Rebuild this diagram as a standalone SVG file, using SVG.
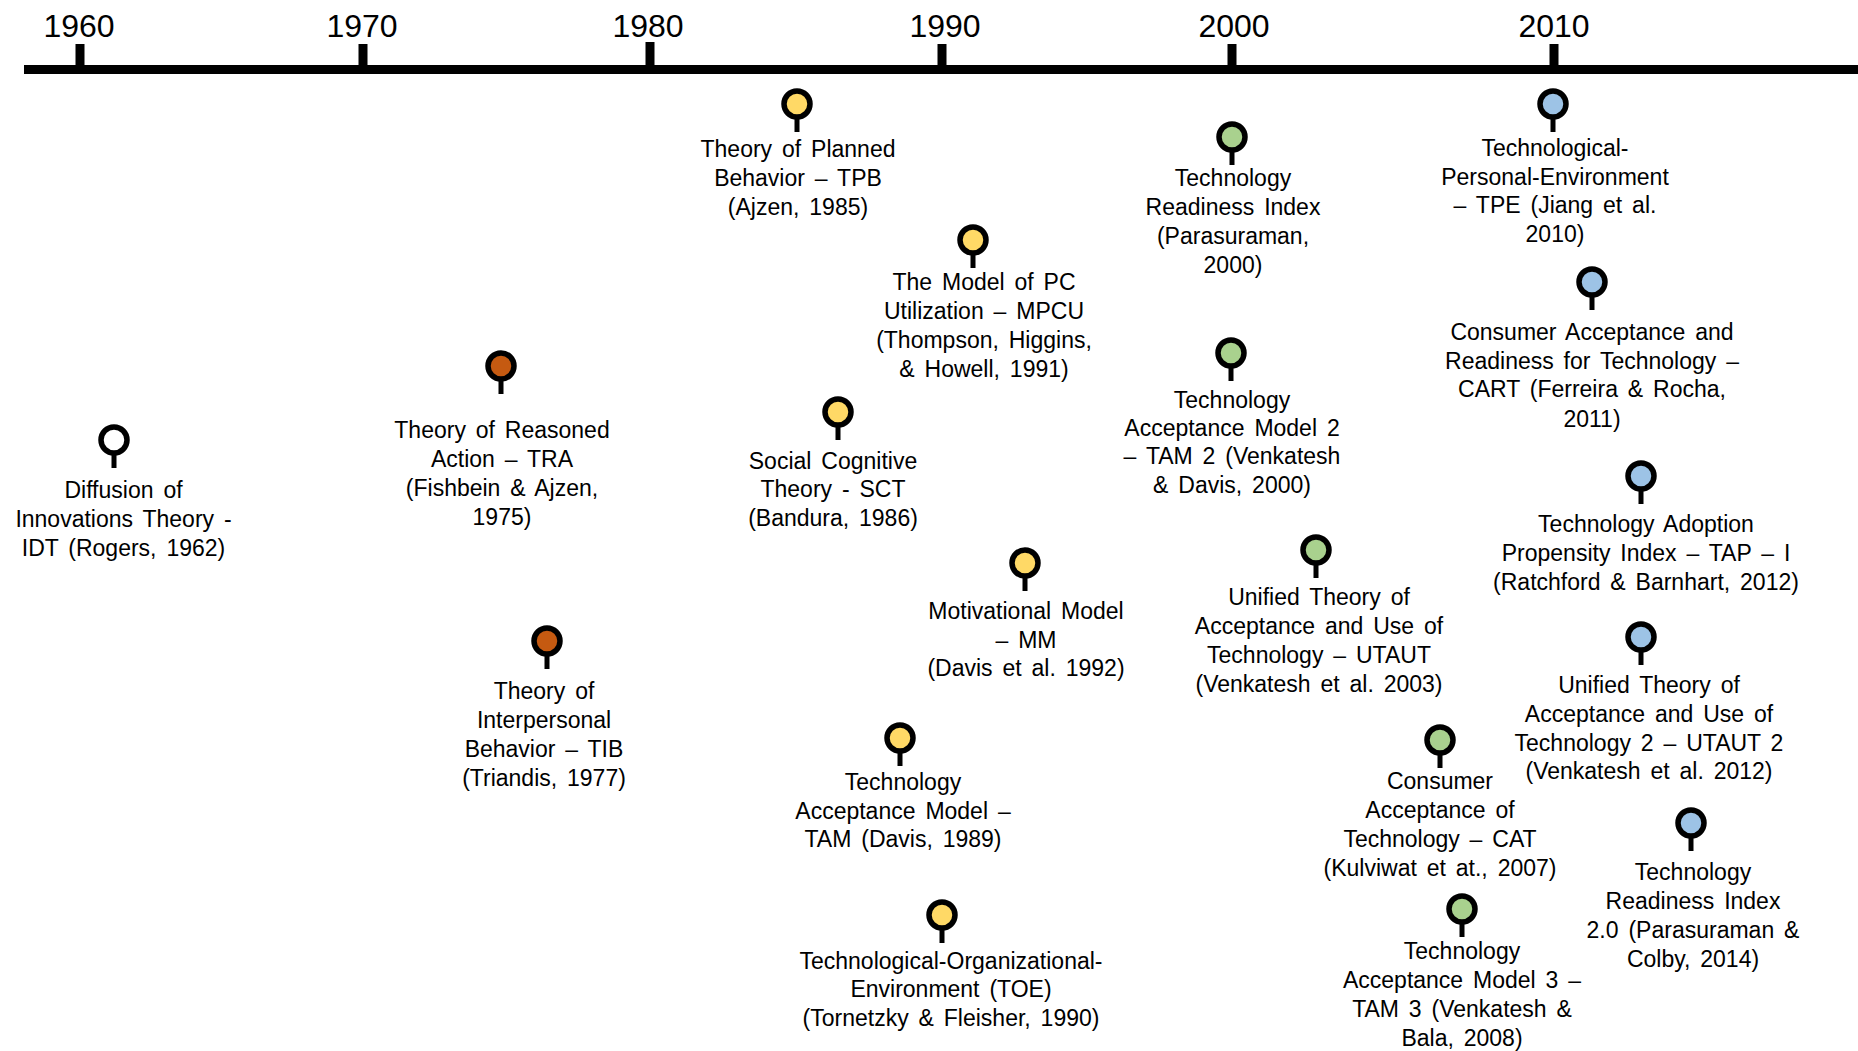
<svg xmlns="http://www.w3.org/2000/svg" width="1858" height="1051" viewBox="0 0 1858 1051">
<style>
  .lbl { font-family: "Liberation Sans", Arial, sans-serif; font-size: 23px; fill: #000; text-anchor: middle; word-spacing: 3.5px; }
  .yr { font-family: "Liberation Sans", Arial, sans-serif; font-size: 32px; fill: #000; text-anchor: middle; }
  .ring { stroke: #000; stroke-width: 5.5; }
  .stem { fill: #000; }
  .white { fill: #ffffff; }
  .orange { fill: #C55A11; }
  .yellow { fill: #FFD966; }
  .green { fill: #A9D18E; }
  .blue { fill: #9DC3E6; }
</style>
<rect width="1858" height="1051" fill="#ffffff"/>
<g id="timeline">
  <rect x="24" y="65" width="1834" height="9" fill="#000"/>
  <rect x="75.5" y="44" width="9" height="22" fill="#000"/>
  <rect x="358.5" y="44" width="9" height="22" fill="#000"/>
  <rect x="645.5" y="42" width="9" height="24" fill="#000"/>
  <rect x="937.5" y="44" width="9" height="22" fill="#000"/>
  <rect x="1227.5" y="44" width="9" height="22" fill="#000"/>
  <rect x="1549.5" y="44" width="9" height="22" fill="#000"/>
  <text class="yr" x="79" y="37">1960</text>
  <text class="yr" x="362" y="37">1970</text>
  <text class="yr" x="648" y="37">1980</text>
  <text class="yr" x="945" y="37">1990</text>
  <text class="yr" x="1234" y="37">2000</text>
  <text class="yr" x="1554" y="37">2010</text>
</g>
<g id="connectors"></g>

<g id="idt">
  <rect class="stem" x="111.5" y="452" width="5" height="16"/>
  <circle class="ring white" cx="114" cy="440" r="13"/>
  <text class="lbl"><tspan x="123.5" y="498">Diffusion of</tspan><tspan x="123.5" y="527">Innovations Theory -</tspan><tspan x="123.5" y="556">IDT (Rogers, 1962)</tspan></text>
</g>
<g id="tra">
  <rect class="stem" x="498.5" y="378" width="5" height="16"/>
  <circle class="ring orange" cx="501" cy="366" r="13"/>
  <text class="lbl"><tspan x="502" y="438">Theory of Reasoned</tspan><tspan x="502" y="467">Action – TRA</tspan><tspan x="502" y="496">(Fishbein &amp; Ajzen,</tspan><tspan x="502" y="525">1975)</tspan></text>
</g>
<g id="tib">
  <rect class="stem" x="544.5" y="653" width="5" height="16"/>
  <circle class="ring orange" cx="547" cy="641" r="13"/>
  <text class="lbl"><tspan x="544" y="699">Theory of</tspan><tspan x="544" y="728">Interpersonal</tspan><tspan x="544" y="757">Behavior – TIB</tspan><tspan x="544" y="786">(Triandis, 1977)</tspan></text>
</g>
<g id="tpb">
  <rect class="stem" x="794.5" y="116" width="5" height="16"/>
  <circle class="ring yellow" cx="797" cy="104" r="13"/>
  <text class="lbl"><tspan x="798" y="157">Theory of Planned</tspan><tspan x="798" y="186">Behavior – TPB</tspan><tspan x="798" y="215">(Ajzen, 1985)</tspan></text>
</g>
<g id="mpcu">
  <rect class="stem" x="970.5" y="252" width="5" height="16"/>
  <circle class="ring yellow" cx="973" cy="240" r="13"/>
  <text class="lbl"><tspan x="984" y="290">The Model of PC</tspan><tspan x="984" y="319">Utilization – MPCU</tspan><tspan x="984" y="348">(Thompson, Higgins,</tspan><tspan x="984" y="377">&amp; Howell, 1991)</tspan></text>
</g>
<g id="sct">
  <rect class="stem" x="835.5" y="424" width="5" height="16"/>
  <circle class="ring yellow" cx="838" cy="412" r="13"/>
  <text class="lbl"><tspan x="833" y="469">Social Cognitive</tspan><tspan x="833" y="497">Theory - SCT</tspan><tspan x="833" y="526">(Bandura, 1986)</tspan></text>
</g>
<g id="mm">
  <rect class="stem" x="1022.5" y="575" width="5" height="16"/>
  <circle class="ring yellow" cx="1025" cy="563" r="13"/>
  <text class="lbl"><tspan x="1026" y="619">Motivational Model</tspan><tspan x="1026" y="648">– MM</tspan><tspan x="1026" y="676">(Davis et al. 1992)</tspan></text>
</g>
<g id="tam">
  <rect class="stem" x="897.5" y="750" width="5" height="16"/>
  <circle class="ring yellow" cx="900" cy="738" r="13"/>
  <text class="lbl"><tspan x="903" y="790">Technology</tspan><tspan x="903" y="819">Acceptance Model –</tspan><tspan x="903" y="847">TAM (Davis, 1989)</tspan></text>
</g>
<g id="toe">
  <rect class="stem" x="939.5" y="927" width="5" height="16"/>
  <circle class="ring yellow" cx="942" cy="915" r="13"/>
  <text class="lbl"><tspan x="951" y="969">Technological-Organizational-</tspan><tspan x="951" y="997">Environment (TOE)</tspan><tspan x="951" y="1026">(Tornetzky &amp; Fleisher, 1990)</tspan></text>
</g>
<g id="tri">
  <rect class="stem" x="1229.5" y="149" width="5" height="16"/>
  <circle class="ring green" cx="1232" cy="137" r="13"/>
  <text class="lbl"><tspan x="1233" y="186">Technology</tspan><tspan x="1233" y="215">Readiness Index</tspan><tspan x="1233" y="244">(Parasuraman,</tspan><tspan x="1233" y="273">2000)</tspan></text>
</g>
<g id="tam2">
  <rect class="stem" x="1228.5" y="365" width="5" height="16"/>
  <circle class="ring green" cx="1231" cy="353" r="13"/>
  <text class="lbl"><tspan x="1232" y="408">Technology</tspan><tspan x="1232" y="436">Acceptance Model 2</tspan><tspan x="1232" y="464">– TAM 2 (Venkatesh</tspan><tspan x="1232" y="493">&amp; Davis, 2000)</tspan></text>
</g>
<g id="utaut">
  <rect class="stem" x="1313.5" y="562" width="5" height="16"/>
  <circle class="ring green" cx="1316" cy="550" r="13"/>
  <text class="lbl"><tspan x="1319" y="605">Unified Theory of</tspan><tspan x="1319" y="634">Acceptance and Use of</tspan><tspan x="1319" y="663">Technology – UTAUT</tspan><tspan x="1319" y="692">(Venkatesh et al. 2003)</tspan></text>
</g>
<g id="cat">
  <rect class="stem" x="1437.5" y="752" width="5" height="16"/>
  <circle class="ring green" cx="1440" cy="740" r="13"/>
  <text class="lbl"><tspan x="1440" y="789">Consumer</tspan><tspan x="1440" y="818">Acceptance of</tspan><tspan x="1440" y="847">Technology – CAT</tspan><tspan x="1440" y="876">(Kulviwat et at., 2007)</tspan></text>
</g>
<g id="tam3">
  <rect class="stem" x="1459.5" y="921" width="5" height="16"/>
  <circle class="ring green" cx="1462" cy="909" r="13"/>
  <text class="lbl"><tspan x="1462" y="959">Technology</tspan><tspan x="1462" y="988">Acceptance Model 3 –</tspan><tspan x="1462" y="1017">TAM 3 (Venkatesh &amp;</tspan><tspan x="1462" y="1046">Bala, 2008)</tspan></text>
</g>
<g id="tpe">
  <rect class="stem" x="1550.5" y="116" width="5" height="16"/>
  <circle class="ring blue" cx="1553" cy="104" r="13"/>
  <text class="lbl"><tspan x="1555" y="156">Technological-</tspan><tspan x="1555" y="185">Personal-Environment</tspan><tspan x="1555" y="213">– TPE (Jiang et al.</tspan><tspan x="1555" y="242">2010)</tspan></text>
</g>
<g id="cart">
  <rect class="stem" x="1589.5" y="294" width="5" height="16"/>
  <circle class="ring blue" cx="1592" cy="282" r="13"/>
  <text class="lbl"><tspan x="1592" y="340">Consumer Acceptance and</tspan><tspan x="1592" y="369">Readiness for Technology –</tspan><tspan x="1592" y="397">CART (Ferreira &amp; Rocha,</tspan><tspan x="1592" y="427">2011)</tspan></text>
</g>
<g id="tap">
  <rect class="stem" x="1638.5" y="488" width="5" height="16"/>
  <circle class="ring blue" cx="1641" cy="476" r="13"/>
  <text class="lbl"><tspan x="1646" y="532">Technology Adoption</tspan><tspan x="1646" y="561">Propensity Index – TAP – I</tspan><tspan x="1646" y="590">(Ratchford &amp; Barnhart, 2012)</tspan></text>
</g>
<g id="utaut2">
  <rect class="stem" x="1638.5" y="649" width="5" height="16"/>
  <circle class="ring blue" cx="1641" cy="637" r="13"/>
  <text class="lbl"><tspan x="1649" y="693">Unified Theory of</tspan><tspan x="1649" y="722">Acceptance and Use of</tspan><tspan x="1649" y="751">Technology 2 – UTAUT 2</tspan><tspan x="1649" y="779">(Venkatesh et al. 2012)</tspan></text>
</g>
<g id="tri2">
  <rect class="stem" x="1688.5" y="835" width="5" height="16"/>
  <circle class="ring blue" cx="1691" cy="823" r="13"/>
  <text class="lbl"><tspan x="1693" y="880">Technology</tspan><tspan x="1693" y="909">Readiness Index</tspan><tspan x="1693" y="938">2.0 (Parasuraman &amp;</tspan><tspan x="1693" y="967">Colby, 2014)</tspan></text>
</g>
</svg>
